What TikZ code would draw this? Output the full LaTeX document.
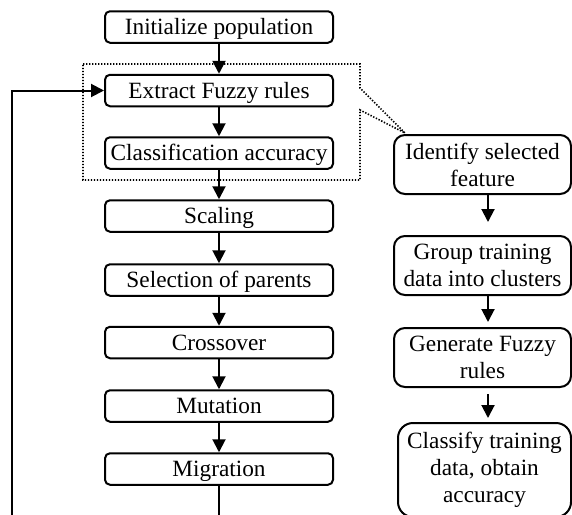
\documentclass[tikz,border=0pt]{standalone}
\usepackage{fontspec}
\setmainfont{Liberation Serif}
\usetikzlibrary{arrows.meta}
\begin{document}
\begin{tikzpicture}[x=1pt,y=-1pt,
  lbox/.style={draw,rounded corners=5pt,line width=2pt,minimum width=228pt,minimum height=31.5pt,inner sep=0pt,font=\fontsize{23.3}{27}\selectfont,text height=18pt,text depth=2.5pt},
  rbox/.style={draw,rounded corners=11pt,line width=2pt,minimum width=177pt,inner sep=0pt,align=center,font=\fontsize{23.3}{27}\selectfont},
  arr/.style={line width=2pt,-{Triangle[length=13pt,width=13pt]}},
  callout/.style={line width=1.6pt,dash pattern=on 1.4pt off 1.6pt}
  ]
\useasboundingbox (0,0) rectangle (572,514);
\clip (0,0) rectangle (572,514);
% left column
\node[lbox] (init) at (219,27) {Initialize population};
\node[lbox] (ext) at (219,90.5) {Extract Fuzzy rules};
\node[lbox] (cls) at (219,153) {Classification accuracy};
\node[lbox] (scl) at (219,216) {Scaling};
\node[lbox] (sel) at (219,280) {Selection of parents};
\node[lbox] (crs) at (219,342.5) {Crossover};
\node[lbox] (mut) at (219,406) {Mutation};
\node[lbox] (mig) at (219,469) {Migration};
% right column
\node[rbox,minimum height=59pt] (idf) at (482.5,164.5) {Identify selected\\feature};
\node[rbox,minimum height=59pt] (grp) at (482.5,265.5) {Group training\\data into clusters};
\node[rbox,minimum height=59pt] (gen) at (482.5,357.5) {Generate Fuzzy\\rules};
\node[rbox,minimum height=94pt,minimum width=173pt,rounded corners=15pt] (csf) at (484.5,470) {Classify training\\data, obtain\\accuracy};
% dotted callout
\draw[callout] (83,64) -- (360,64) -- (360,88) -- (405,133) -- (360,110) -- (360,180) -- (83,180) -- cycle;
% arrows left
\draw[arr] (init) -- (ext);
\draw[arr] (ext) -- (cls);
\draw[arr] (cls) -- (scl);
\draw[arr] (scl) -- (sel);
\draw[arr] (sel) -- (crs);
\draw[arr] (crs) -- (mut);
\draw[arr] (mut) -- (mig);
\coordinate (lb) at (12,535);
\draw[arr] (mig.south) |- (lb) |- (ext.west);
% arrows right
\draw[arr,shorten >=13pt] ([xshift=5.5pt]idf.south) -- ([xshift=5.5pt]grp.north);
\draw[arr,shorten >=5pt] ([xshift=5.5pt]grp.south) -- ([xshift=5.5pt]gen.north);
\draw[arr,shorten <=6pt,shorten >=4pt] ([xshift=5.5pt]gen.south) -- ([xshift=3.5pt]csf.north);
\end{tikzpicture}
\end{document}
